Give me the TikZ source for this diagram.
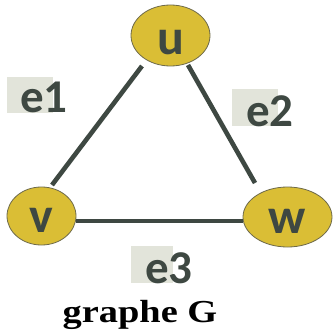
\documentclass[tikz,border=0pt]{standalone}
\usepackage{fontspec}
\setmainfont{Liberation Serif}
\newfontfamily\carl{Carlito}
\usetikzlibrary{shapes.geometric}
\definecolor{gold}{HTML}{DABE35}
\definecolor{ink}{HTML}{3E4842}
\definecolor{rim}{HTML}{6E6A4A}
\definecolor{hl}{HTML}{E2E4DA}
\tikzset{
  vert/.style={ellipse, draw=rim, line width=0.8pt, fill=gold, inner sep=0pt,
    text=ink, font=\carl\bfseries\fontsize{50}{50}\selectfont, text depth=0pt},
  edge/.style={draw=ink, line width=4.6pt},
  elabel/.style={anchor=base west, inner sep=0pt, text=ink, font=\carl\bfseries\fontsize{47}{47}\selectfont},
}
\begin{document}
\begin{tikzpicture}[x=1pt,y=-1pt]
\useasboundingbox (0,0) rectangle (332,334);
\fill[white] (0,0) rectangle (332,334);
% highlight boxes
\fill[hl] (7,77) rectangle (53,113);
\fill[hl] (232,89) rectangle (278,126);
\fill[hl] (131,246) rectangle (173,283);
% vertices
\node[vert, minimum width=79pt, minimum height=61pt, text height=38pt] (u) at (170.5,35.5) {u};
\node[vert, minimum width=69pt, minimum height=58pt, text height=32pt] (v) at (41.5,216) {v};
\node[vert, minimum width=89pt, minimum height=60pt, text height=32pt] (w) at (287.5,217) {w};
% edges
\draw[edge] ([xshift=-28.5pt,yshift=-30.5pt]u.center) -- ([xshift=10.5pt,yshift=31pt]v.center);
\draw[edge] ([xshift=17.5pt,yshift=-29.5pt]u.center) -- ([xshift=-32.5pt,yshift=34pt]w.center);
\draw[edge] ([yshift=-5pt]v.east) -- ([yshift=-4pt]w.west);
% edge labels
\node[elabel] (l1) at (20,113) {e1};
\node[elabel] (l2) at (246,126) {e2};
\node[elabel] (l3) at (145,283) {e3};
% caption
\node[anchor=base, inner sep=0pt, xscale=1.2, font=\bfseries\fontsize{32}{32}\selectfont] (cap) at (140,322) {graphe G};
\end{tikzpicture}
\end{document}
